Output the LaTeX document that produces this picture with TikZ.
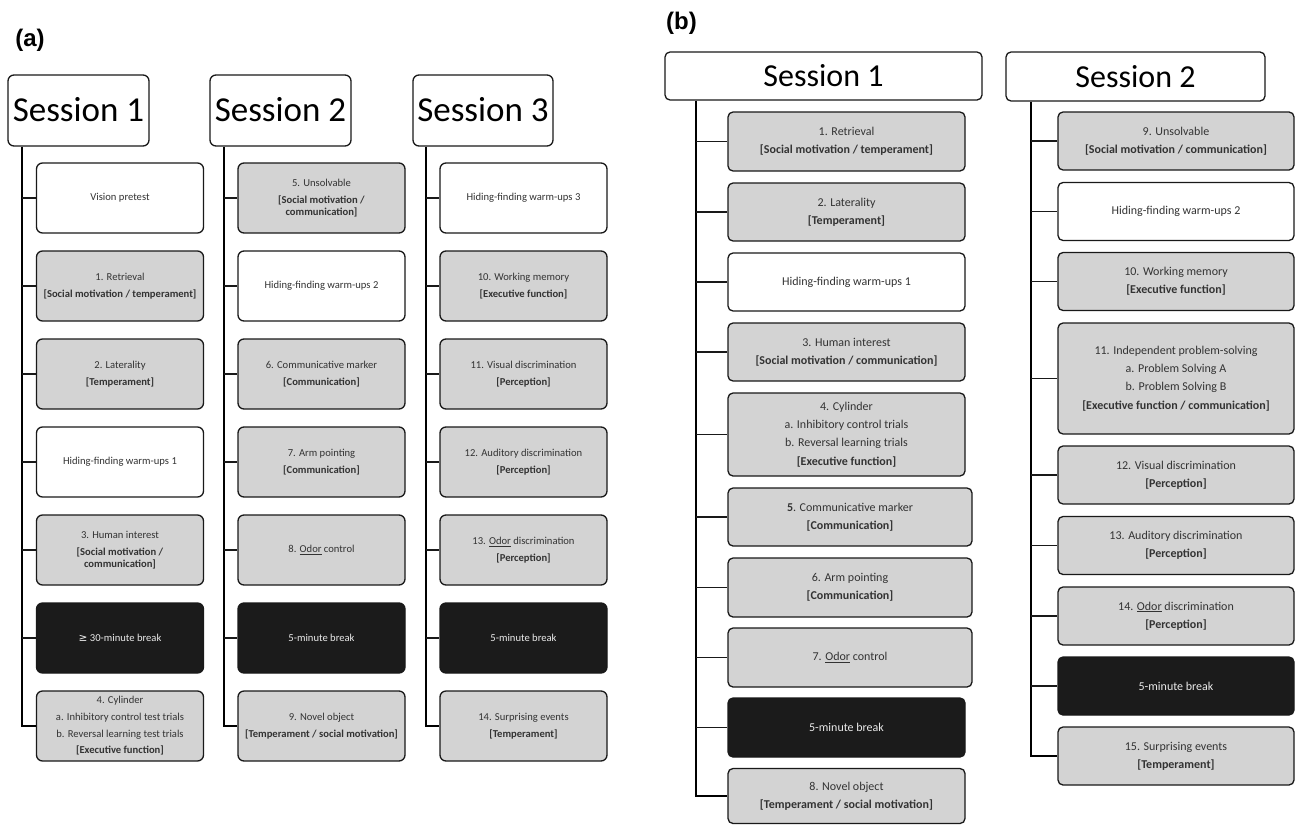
\documentclass[tikz,border=0pt]{standalone}
\usepackage{fontspec}
\setmainfont{Carlito}
\newfontfamily\labfont{Liberation Sans}
\newfontfamily\symfont{DejaVu Sans}
\definecolor{boxgray}{HTML}{D3D3D3}
\definecolor{boxblack}{HTML}{1B1B1B}
\definecolor{ink}{HTML}{333333}
\begin{document}
\begin{tikzpicture}[x=1pt,y=-1pt,
  box/.style={draw=black!90, line width=1.3pt, rounded corners=6pt, align=center, text=ink, inner sep=0pt},
  gbox/.style={box, fill=boxgray},
  wbox/.style={box, fill=white},
  kbox/.style={box, fill=boxblack, text=white!92!black},
  sa/.style={font=\fontsize{10.6}{16.7}\selectfont, minimum width=167pt, minimum height=70pt},
  sb/.style={font=\fontsize{12}{18.3}\selectfont, minimum width=237pt, minimum height=58pt, rounded corners=5pt},
  sc/.style={font=\fontsize{12}{18.3}\selectfont, minimum width=236pt, minimum height=58pt, rounded corners=5pt},
  head/.style={draw=black!90, line width=1.3pt, rounded corners=6pt, fill=white, text=black, inner sep=0pt},
  trunk/.style={line width=1.8pt, black},
  stub/.style={line width=1.3pt, black!90},
  lab/.style={font=\labfont\bfseries\fontsize{24}{28}\selectfont, inner sep=0pt}
]
\useasboundingbox (0,0) rectangle (1298,825);

% ---------------- panel (a) ----------------
\node[lab] (la) at (30,40) {(a)};

\node[head, minimum width=141pt, minimum height=71pt, font=\fontsize{35}{40}\selectfont] (a1h) at (78.5,110.5) {\raisebox{3pt}{Session 1}};
\node[head, minimum width=141pt, minimum height=71pt, font=\fontsize{35}{40}\selectfont] (a2h) at (280.5,110.5) {\raisebox{3pt}{Session 2}};
\node[head, minimum width=140pt, minimum height=71pt, font=\fontsize{35}{40}\selectfont] (a3h) at (483,110.5) {\raisebox{3pt}{Session 3}};

% column 1
\node[wbox, sa] (a1b1) at (120,198) {Vision pretest};
\node[gbox, sa] (a1b2) at (120,286) {1. Retrieval\\\textbf{[Social motivation / temperament]}};
\node[gbox, sa] (a1b3) at (120,374) {2. Laterality\\\textbf{[Temperament]}};
\node[wbox, sa] (a1b4) at (120,462) {Hiding-finding warm-ups 1};
\node[gbox, sa] (a1b5) at (120,550) {3. Human interest\\\textbf{[Social motivation /}\\[-5pt]\textbf{communication]}};
\node[kbox, sa] (a1b6) at (120,638) {{\symfont ≥} 30-minute break};
\node[gbox, sa] (a1b7) at (120,726) {4. Cylinder\\a. Inhibitory control test trials\\b. Reversal learning test trials\\\textbf{[Executive function]}};

% column 2
\node[gbox, sa] (a2b1) at (321.5,198) {5. Unsolvable\\\textbf{[Social motivation /}\\[-5pt]\textbf{communication]}};
\node[wbox, sa] (a2b2) at (321.5,286) {Hiding-finding warm-ups 2};
\node[gbox, sa] (a2b3) at (321.5,374) {6. Communicative marker\\\textbf{[Communication]}};
\node[gbox, sa] (a2b4) at (321.5,462) {7. Arm pointing\\\textbf{[Communication]}};
\node[gbox, sa] (a2b5) at (321.5,550) {8. \underline{Odor} control};
\node[kbox, sa] (a2b6) at (321.5,638) {5-minute break};
\node[gbox, sa] (a2b7) at (321.5,726) {9. Novel object\\\textbf{[Temperament / social motivation]}};

% column 3
\node[wbox, sa] (a3b1) at (523.5,198) {Hiding-finding warm-ups 3};
\node[gbox, sa] (a3b2) at (523.5,286) {10. Working memory\\\textbf{[Executive function]}};
\node[gbox, sa] (a3b3) at (523.5,374) {11. Visual discrimination\\\textbf{[Perception]}};
\node[gbox, sa] (a3b4) at (523.5,462) {12. Auditory discrimination\\\textbf{[Perception]}};
\node[gbox, sa] (a3b5) at (523.5,550) {13. \underline{Odor} discrimination\\\textbf{[Perception]}};
\node[kbox, sa] (a3b6) at (523.5,638) {5-minute break};
\node[gbox, sa] (a3b7) at (523.5,726) {14. Surprising events\\\textbf{[Temperament]}};

\path (a1h.south west) ++(14.7,0) coordinate (a1t);
\path (a2h.south west) ++(15,0) coordinate (a2t);
\path (a3h.south west) ++(14,0) coordinate (a3t);

\foreach \c in {1,2,3}{
  \draw[trunk] (a\c t) |- (a\c b7.west);
  \foreach \n in {1,...,6}{
    \draw[stub] (a\c t |- a\c b\n.west) -- (a\c b\n.west);
  }
}

% ---------------- panel (b) ----------------
\node[lab] (lb) at (681.5,23) {(b)};

\node[head, minimum width=317pt, minimum height=48pt, rounded corners=5pt, font=\fontsize{32}{36}\selectfont] (b1h) at (823.5,76) {Session 1};
\node[head, minimum width=259pt, minimum height=49pt, rounded corners=5pt, font=\fontsize{32}{36}\selectfont] (b2h) at (1135.5,76.5) {Session 2};

% session 1
\node[gbox, sb, minimum height=59pt] (b1b1) at (846.5,141.5) {1. Retrieval\\\textbf{[Social motivation / temperament]}};
\node[gbox, sb] (b1b2) at (846.5,212) {2. Laterality\\\textbf{[Temperament]}};
\node[wbox, sb] (b1b3) at (846.5,282) {Hiding-finding warm-ups 1};
\node[gbox, sb] (b1b4) at (846.5,352) {3. Human interest\\\textbf{[Social motivation / communication]}};
\node[gbox, sb, minimum height=83pt] (b1b5) at (846.5,434.5) {4. Cylinder\\a. Inhibitory control trials\\b. Reversal learning trials\\\textbf{[Executive function]}};
\node[gbox, sb, minimum width=244pt] (b1b6) at (850,517) {\textbf{5}. Communicative marker\\\textbf{[Communication]}};
\node[gbox, sb, minimum width=244pt, minimum height=59pt] (b1b7) at (850,587.5) {6. Arm pointing\\\textbf{[Communication]}};
\node[gbox, sb, minimum width=244pt, minimum height=59pt] (b1b8) at (850,657.5) {7. \underline{Odor} control};
\node[kbox, sb, minimum height=59pt] (b1b9) at (846.5,727.5) {5-minute break};
\node[gbox, sb, minimum height=55pt] (b1b10) at (846.5,796) {8. Novel object\\\textbf{[Temperament / social motivation]}};

% session 2
\node[gbox, sc] (b2b1) at (1176,141) {9. Unsolvable\\\textbf{[Social motivation / communication]}};
\node[wbox, sc] (b2b2) at (1176,211.5) {Hiding-finding warm-ups 2};
\node[gbox, sc] (b2b3) at (1176,281.5) {10. Working memory\\\textbf{[Executive function]}};
\node[gbox, sc, minimum height=111pt] (b2b4) at (1176,378.5) {11. Independent problem-solving\\a. Problem Solving A\\b. Problem Solving B\\\textbf{[Executive function / communication]}};
\node[gbox, sc] (b2b5) at (1176,475) {12. Visual discrimination\\\textbf{[Perception]}};
\node[gbox, sc] (b2b6) at (1176,545.5) {13. Auditory discrimination\\\textbf{[Perception]}};
\node[gbox, sc] (b2b7) at (1176,616) {14. \underline{Odor} discrimination\\\textbf{[Perception]}};
\node[kbox, sc] (b2b8) at (1176,686) {5-minute break};
\node[gbox, sc] (b2b9) at (1176,756) {15. Surprising events\\\textbf{[Temperament]}};

\path (b1h.south west) ++(32,0) coordinate (b1t);
\path (b2h.south west) ++(26,0) coordinate (b2t);

\draw[trunk] (b1t) |- (b1b10.west);
\foreach \n in {1,...,9}{
  \draw[stub] (b1t |- b1b\n.west) -- (b1b\n.west);
}
\draw[trunk] (b2t) |- (b2b9.west);
\foreach \n in {1,...,8}{
  \draw[stub] (b2t |- b2b\n.west) -- (b2b\n.west);
}
\end{tikzpicture}
\end{document}
